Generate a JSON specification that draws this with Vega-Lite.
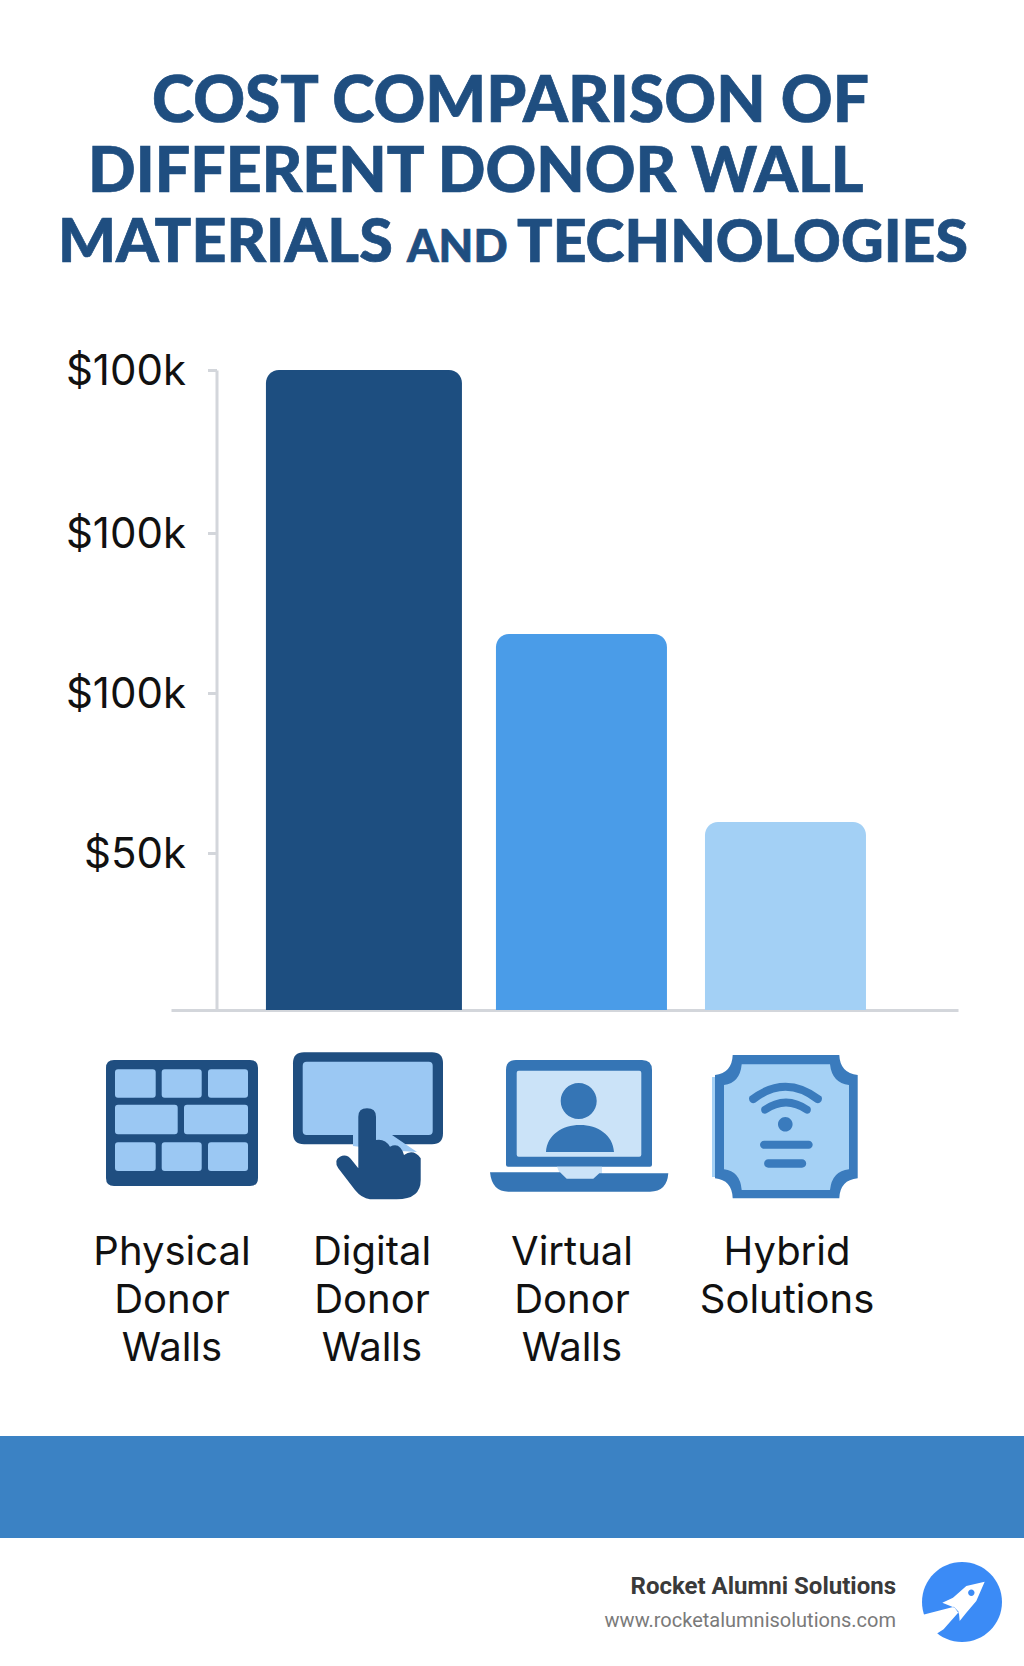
{
  "$schema": "https://vega.github.io/schema/vega-lite/v6.json",
  "background": "#ffffff",
  "padding": 0,
  "spacing": 0,
  "bounds": "flush",
  "config": {"view": {"stroke": null}},
  "resolve": {"scale": {"color": "independent", "shape": "independent", "size": "independent"}},
  "datasets": {
    "titleText": [
      {"line": "1", "text": "COST COMPARISON OF"},
      {"line": "2", "text": "DIFFERENT DONOR WALL"},
      {"line": "3", "text": "MATERIALS"},
      {"line": "3", "text": "AND"},
      {"line": "3", "text": "TECHNOLOGIES"}
    ],
    "costs": [
      {"material": "Physical Donor Walls", "cost": 200000},
      {"material": "Digital Donor Walls", "cost": 117500},
      {"material": "Virtual Donor Walls", "cost": 58750}
    ],
    "iconParts": [
      {"material": "Physical Donor Walls", "part": "wallFrame"},
      {"material": "Physical Donor Walls", "part": "wallBricks"},
      {"material": "Digital Donor Walls", "part": "touchFrame"},
      {"material": "Digital Donor Walls", "part": "touchScreen"},
      {"material": "Digital Donor Walls", "part": "touchHand"},
      {"material": "Virtual Donor Walls", "part": "laptopLid"},
      {"material": "Virtual Donor Walls", "part": "laptopScreen"},
      {"material": "Virtual Donor Walls", "part": "laptopPerson"},
      {"material": "Hybrid Solutions", "part": "plaqueFrame"},
      {"material": "Hybrid Solutions", "part": "plaqueFill"},
      {"material": "Hybrid Solutions", "part": "plaqueSignal"}
    ],
    "labels": [
      {"material": "Physical Donor Walls", "line": "1", "text": "Physical"},
      {"material": "Physical Donor Walls", "line": "2", "text": "Donor"},
      {"material": "Physical Donor Walls", "line": "3", "text": "Walls"},
      {"material": "Digital Donor Walls", "line": "1", "text": "Digital"},
      {"material": "Digital Donor Walls", "line": "2", "text": "Donor"},
      {"material": "Digital Donor Walls", "line": "3", "text": "Walls"},
      {"material": "Virtual Donor Walls", "line": "1", "text": "Virtual"},
      {"material": "Virtual Donor Walls", "line": "2", "text": "Donor"},
      {"material": "Virtual Donor Walls", "line": "3", "text": "Walls"},
      {"material": "Hybrid Solutions", "line": "1", "text": "Hybrid"},
      {"material": "Hybrid Solutions", "line": "2", "text": "Solutions"}
    ],
    "footerText": [
      {"column": "text", "row": "name", "text": "Rocket Alumni Solutions"},
      {"column": "text", "row": "url", "text": "www.rocketalumnisolutions.com"}
    ],
    "logoParts": [
      {"column": "logo", "part": "disc"},
      {"column": "logo", "part": "rocket"},
      {"column": "logo", "part": "window"}
    ]
  },
  "vconcat": [
    {
      "width": 1024,
      "height": 340,
      "data": {"name": "titleText"},
      "mark": {"type": "text", "align": "left", "baseline": "alphabetic", "font": "Lato", "fontWeight": 900, "color": "#1f4e80", "stroke": "#1f4e80", "strokeWidth": 0.7,
        "fontSize": {"expr": "{'COST COMPARISON OF': 64, 'DIFFERENT DONOR WALL': 62.7, 'MATERIALS': 61, 'AND': 45, 'TECHNOLOGIES': 59}[datum.text]"},
        "xOffset": {"expr": "{'COST COMPARISON OF': -360, 'DIFFERENT DONOR WALL': -424, 'MATERIALS': -454, 'AND': -105, 'TECHNOLOGIES': 5}[datum.text]"}},
      "encoding": {
        "y": {"field": "line", "type": "nominal", "axis": null, "scale": {"type": "point", "domain": ["1", "2", "3"], "range": [122, 262], "padding": 0}},
        "text": {"field": "text"}
      }
    },
    {
      "width": 1024,
      "height": 670,
      "data": {"name": "costs"},
      "mark": {"type": "bar", "cornerRadiusTopLeft": 13, "cornerRadiusTopRight": 13,
        "xOffset": {"expr": "datum.material === 'Digital Donor Walls' ? 6.75 : 0"}},
      "encoding": {
        "x": {
          "field": "material",
          "type": "nominal",
          "sort": null,
          "scale": {"domain": ["Physical Donor Walls", "Digital Donor Walls", "Virtual Donor Walls"], "range": [171, 958], "paddingInner": 0, "paddingOuter": 0.367, "align": 0.566},
          "axis": {"title": null, "labels": false, "ticks": false, "domainColor": "#d3d6db", "domainWidth": 3}
        },
        "y": {
          "field": "cost",
          "type": "quantitative",
          "scale": {"domain": [0, 200000], "range": [670, 30], "nice": false},
          "axis": {
            "title": null,
            "grid": false,
            "offset": -216.5,
            "values": [49000, 99000, 149000, 200000],
            "labelExpr": "datum.value >= 99000 ? '$100k' : '$50k'",
            "labelFont": "Inter",
            "labelFontSize": 42,
            "labelColor": "#111111",
            "labelPadding": 22,
            "labelOffset": 1,
            "tickSize": 9,
            "tickWidth": 3,
            "tickColor": "#d3d6db",
            "domainColor": "#d3d6db",
            "domainWidth": 3
          }
        },
        "color": {"field": "material", "type": "nominal", "legend": null, "scale": {"domain": ["Physical Donor Walls", "Digital Donor Walls", "Virtual Donor Walls"], "range": ["#1d4e80", "#4a9ce8", "#a3d0f5"]}},
        "size": {"field": "cost", "type": "quantitative", "legend": null, "scale": {"domain": [58750, 117500, 200000], "range": [161, 171, 196], "zero": false}}
      }
    },
    {
      "width": 1024,
      "height": 210,
      "data": {"name": "iconParts"},
      "mark": {"type": "point", "filled": true, "opacity": 1, "size": 40000},
      "encoding": {
        "x": {"field": "material", "type": "nominal", "sort": null, "axis": null, "scale": {"type": "point", "domain": ["Physical Donor Walls", "Digital Donor Walls", "Virtual Donor Walls", "Hybrid Solutions"], "range": [172, 787], "padding": 0}},
        "color": {"field": "part", "type": "nominal", "legend": null, "scale": {
          "domain": ["wallFrame", "wallBricks", "touchFrame", "touchScreen", "touchHand", "laptopLid", "laptopScreen", "laptopPerson", "plaqueFrame", "plaqueFill", "plaqueSignal"],
          "range": ["#1f4e80", "#9bc8f3", "#1f4e80", "#9bc8f3", "#1f4e80", "#3575b5", "#cbe3f8", "#3575b5", "#3a7bbd", "#a5d1f5", "#3a7bbd"]
        }},
        "shape": {"field": "part", "type": "nominal", "legend": null, "scale": {
          "domain": ["wallFrame", "wallBricks", "touchFrame", "touchScreen", "touchHand", "laptopLid", "laptopScreen", "laptopPerson", "plaqueFrame", "plaqueFill", "plaqueSignal"],
          "range": [
            "M -.58 -.55 h 1.36 q .08 0 .08 .08 v 1.1 q 0 .08 -.08 .08 h -1.36 q -.08 0 -.08 -.08 v -1.1 q 0 -.08 .08 -.08 z",
            "M -.54 -.457 h .347 q .03 0 .03 .03 v .224 q 0 .03 -.03 .03 h -.347 q -.03 0 -.03 -.03 v -.224 q 0 -.03 .03 -.03 z M -.073 -.457 h .34 q .03 0 .03 .03 v .224 q 0 .03 -.03 .03 h -.34 q -.03 0 -.03 -.03 v -.224 q 0 -.03 .03 -.03 z M .39 -.457 h .34 q .03 0 .03 .03 v .224 q 0 .03 -.03 .03 h -.34 q -.03 0 -.03 -.03 v -.224 q 0 -.03 .03 -.03 z M -.54 -.103 h .567 q .03 0 .03 .03 v .236 q 0 .03 -.03 .03 h -.567 q -.03 0 -.03 -.03 v -.236 q 0 -.03 .03 -.03 z M .15 -.103 h .58 q .03 0 .03 .03 v .236 q 0 .03 -.03 .03 h -.58 q -.03 0 -.03 -.03 v -.236 q 0 -.03 .03 -.03 z M -.54 .273 h .347 q .03 0 .03 .03 v .227 q 0 .03 -.03 .03 h -.347 q -.03 0 -.03 -.03 v -.227 q 0 -.03 .03 -.03 z M -.073 .273 h .34 q .03 0 .03 .03 v .227 q 0 .03 -.03 .03 h -.34 q -.03 0 -.03 -.03 v -.227 q 0 -.03 .03 -.03 z M .39 .273 h .34 q .03 0 .03 .03 v .227 q 0 .03 -.03 .03 h -.34 q -.03 0 -.03 -.03 v -.227 q 0 -.03 .03 -.03 z",
            "M -.73 -.627 h 1.28 q .11 0 .11 .11 v .7 q 0 .11 -.11 .11 h -1.28 q -.11 0 -.11 -.11 v -.7 q 0 -.11 .11 -.11 z",
            "M -.703 -.533 h 1.22 q .04 0 .04 .04 v .653 q 0 .04 -.04 .04 h -1.22 q -.04 0 -.04 -.04 v -.653 q 0 -.04 .04 -.04 z M -.24 .2 L .15 .2 L .4 .37 L .08 .35 L -.24 .31 Z",
            "M -.187 .533 L -.187 .017 Q -.187 -.067 -.1 -.067 Q -.01 -.067 -.01 .017 L -.01 .25 Q .08 .233 .13 .317 Q .23 .267 .27 .4 Q .363 .333 .437 .433 L .437 .65 Q .437 .843 .197 .843 L -.07 .843 Q -.153 .833 -.22 .75 L -.387 .533 Q -.437 .45 -.37 .417 Q -.303 .383 -.253 .45 Z",
            "M -.66 -.55 H .6 Q .7 -.55 .7 -.45 V .497 Q .7 .517 .68 .517 H -.74 Q -.76 .517 -.76 .497 V -.45 Q -.76 -.55 -.66 -.55 Z",
            "M -.633 -.443 H .573 Q .593 -.443 .593 -.423 V .397 Q .593 .417 .573 .417 H -.633 Q -.653 .417 -.653 .397 V -.423 Q -.653 -.443 -.633 -.443 Z M -.25 .517 H .2 V .64 H -.2 Z",
            "M -.213 -.14 A .18 .18 0 1 0 .147 -.14 A .18 .18 0 1 0 -.213 -.14 Z M -.36 .37 C -.35 .2 -.2 .1 -.02 .1 C .16 .1 .31 .2 .32 .37 Z M -.92 .573 L -.22 .573 L -.153 .637 L .113 .637 L .173 .583 L .863 .583 Q .85 .767 .68 .767 L -.737 .767 Q -.9 .767 -.92 .573 Z",
            "M -.543 -.6 H .523 Q .53 -.42 .707 -.4 V .633 Q .53 .65 .523 .833 H -.543 Q -.55 .65 -.72 .633 V -.4 Q -.55 -.42 -.543 -.6 Z",
            "M -.453 -.507 H .43 Q .45 -.32 .62 -.3 V .543 Q .45 .56 .43 .75 H -.453 Q -.47 .56 -.63 .543 V -.3 Q -.47 -.32 -.453 -.507 Z M -.75 -.38 H -.72 V .62 H -.75 Z",
            "M -.375 -.185 Q -.015 -.46 .345 -.185 Q .36 -.15 .33 -.125 Q .31 -.11 .285 -.125 Q -.015 -.36 -.315 -.125 Q -.34 -.11 -.36 -.125 Q -.39 -.15 -.375 -.185 Z M -.25 -.08 Q -.01 -.25 .23 -.08 Q .25 -.05 .225 -.02 Q .2 -.005 .18 -.02 Q -.01 -.15 -.2 -.02 Q -.22 -.005 -.245 -.02 Q -.27 -.05 -.25 -.08 Z M -.09 .093 A .073 .073 0 1 0 .056 .093 A .073 .073 0 1 0 -.09 .093 Z M -.23 .257 H .217 A .04 .04 0 0 1 .217 .337 H -.23 A .04 .04 0 0 1 -.23 .257 Z M -.187 .443 H .15 A .042 .042 0 0 1 .15 .527 H -.187 A .042 .042 0 0 1 -.187 .443 Z"
          ]
        }}
      }
    },
    {
      "width": 1024,
      "height": 216,
      "data": {"name": "labels"},
      "mark": {"type": "text", "align": "center", "baseline": "alphabetic", "font": "Inter", "fontSize": 40, "color": "#111111",
        "xOffset": {"expr": "{'Physical Donor Walls': 0, 'Digital Donor Walls': -5, 'Virtual Donor Walls': -10, 'Hybrid Solutions': 0}[datum.material]"}},
      "encoding": {
        "x": {"field": "material", "type": "nominal", "sort": null, "axis": null, "scale": {"type": "point", "domain": ["Physical Donor Walls", "Digital Donor Walls", "Virtual Donor Walls", "Hybrid Solutions"], "range": [172, 787], "padding": 0}},
        "y": {"field": "line", "type": "nominal", "axis": null, "scale": {"type": "point", "domain": ["1", "2", "3"], "range": [45, 141], "padding": 0}},
        "text": {"field": "text"}
      }
    },
    {
      "width": 1024,
      "height": 102,
      "data": {"values": [{"band": "banner"}]},
      "mark": {"type": "rect", "color": "#3b82c4"},
      "encoding": {
        "x": {"field": "band", "type": "nominal", "axis": null, "scale": {"type": "band", "padding": 0}}
      }
    },
    {
      "width": 1024,
      "height": 128,
      "layer": [
        {
          "data": {"name": "footerText"},
          "transform": [{"filter": "datum.row === 'name'"}],
          "mark": {"type": "text", "align": "right", "baseline": "alphabetic", "font": "Roboto", "fontWeight": 700, "fontSize": 24, "color": "#3a3a3a"},
          "encoding": {
            "x": {"field": "column", "type": "nominal", "axis": null, "scale": {"type": "point", "domain": ["text", "logo"], "range": [896, 962], "padding": 0}},
            "y": {"field": "row", "type": "nominal", "axis": null, "scale": {"type": "point", "domain": ["name", "url"], "range": [56, 89], "padding": 0}},
            "text": {"field": "text"}
          }
        },
        {
          "data": {"name": "footerText"},
          "transform": [{"filter": "datum.row === 'url'"}],
          "mark": {"type": "text", "align": "right", "baseline": "alphabetic", "font": "Roboto", "fontSize": 20, "color": "#7a7a7a"},
          "encoding": {
            "x": {"field": "column", "type": "nominal", "axis": null, "scale": {"type": "point", "domain": ["text", "logo"], "range": [896, 962], "padding": 0}},
            "y": {"field": "row", "type": "nominal", "axis": null, "scale": {"type": "point", "domain": ["name", "url"], "range": [56, 89], "padding": 0}},
            "text": {"field": "text"}
          }
        },
        {
          "data": {"name": "logoParts"},
          "mark": {"type": "point", "filled": true, "opacity": 1, "size": 6400},
          "encoding": {
            "x": {"field": "column", "type": "nominal", "axis": null, "scale": {"type": "point", "domain": ["text", "logo"], "range": [896, 962], "padding": 0}},
            "color": {"field": "part", "type": "nominal", "legend": null, "scale": {"domain": ["disc", "rocket", "window"], "range": ["#3b8bf6", "#ffffff", "#3b8bf6"]}},
            "shape": {"field": "part", "type": "nominal", "legend": null, "scale": {"domain": ["disc", "rocket", "window"], "range": [
              "M -1 0 A 1 1 0 1 0 1 0 A 1 1 0 1 0 -1 0 Z",
              "M .567 -.508 L .108 -.4 L -.225 -.108 L -.492 .017 L -.183 .142 L -.075 .292 L -.058 .475 L .108 .267 L .358 -.025 Z M -1.02 .33 L -.2 .12 L -.08 .25 L -.46 .68 L -.72 .85 L -1.05 .7 Z",
              "M .153 -.233 A .08 .08 0 1 0 .313 -.233 A .08 .08 0 1 0 .153 -.233 Z"
            ]}}
          }
        }
      ]
    }
  ]
}
